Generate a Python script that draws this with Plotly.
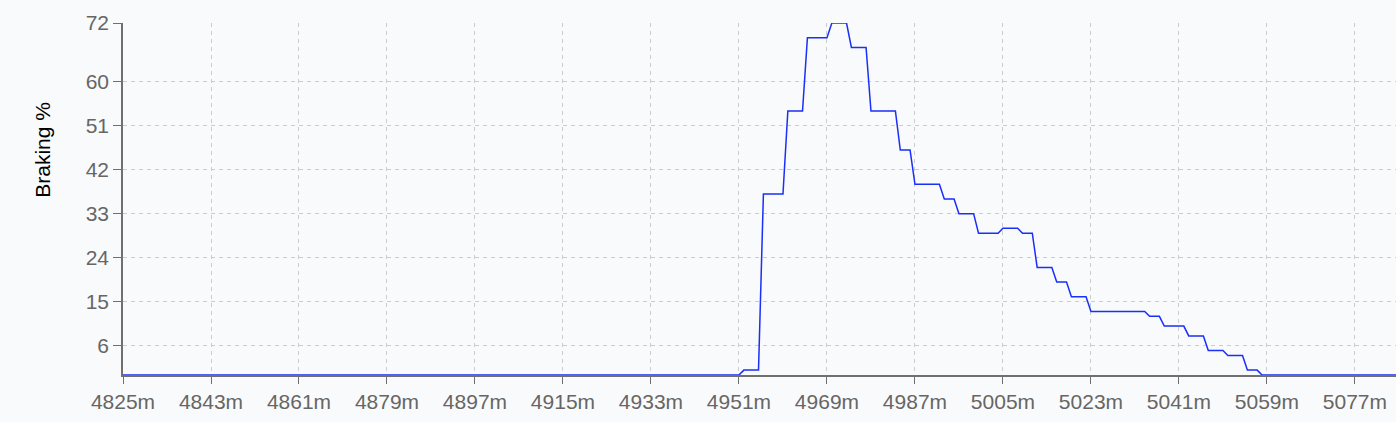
import plotly.graph_objects as go

# distance along lap (m) and brake pressure (%)
distance = [4825, 4951, 4952, 4955, 4956, 4960, 4961, 4964, 4965, 4969, 4970,
            4973, 4974, 4977, 4978, 4983, 4984, 4986, 4987, 4992, 4993, 4995,
            4996, 4999, 5000, 5004, 5005, 5008, 5009, 5011, 5012, 5015, 5016,
            5018, 5019, 5022, 5023, 5034, 5035, 5037, 5038, 5042, 5043, 5046,
            5047, 5050, 5051, 5054, 5055, 5057, 5058, 5086]
braking = [0, 0, 1, 1, 37, 37, 54, 54, 69, 69, 72,
           72, 67, 67, 54, 54, 46, 46, 39, 39, 36, 36,
           33, 33, 29, 29, 30, 30, 29, 29, 22, 22, 19,
           19, 16, 16, 13, 13, 12, 12, 10, 10, 8, 8,
           5, 5, 4, 4, 1, 1, 0, 0]

y_ticks = [6, 15, 24, 33, 42, 51, 60, 72]

fig = go.Figure()
fig.add_trace(go.Scatter(
    x=distance, y=braking, mode="lines",
    line=dict(color="#1a2ff8", width=1.5),
    hoverinfo="x+y",
))

axis_font = dict(family="Liberation Sans, Arial, sans-serif", size=21, color="#666666")

fig.update_layout(
    width=1396, height=422,
    margin=dict(l=123, r=0, t=23, b=47),
    paper_bgcolor="#f9fafb",
    plot_bgcolor="#f9fafb",
    showlegend=False,
    font=axis_font,
    xaxis=dict(
        range=[4825, 5085.4],
        tick0=4825, dtick=18, ticksuffix="m",
        showgrid=True, gridcolor="#cccccc", gridwidth=1, griddash="4px,4px",
        showline=True, linecolor="#707070", linewidth=1.5,
        ticks="outside", ticklen=7, tickcolor="#707070",
        zeroline=False, tickfont=axis_font,
    ),
    yaxis=dict(
        range=[0, 72],
        tickvals=y_ticks,
        showgrid=True, gridcolor="#cccccc", gridwidth=1, griddash="4px,4px",
        showline=True, linecolor="#707070", linewidth=1.5,
        ticks="outside", ticklen=8, tickcolor="#707070",
        zeroline=False, tickfont=axis_font,
    ),
)

# y title sits above the axis middle in the original, so place it by hand
fig.add_annotation(
    text="Braking %", textangle=-90, showarrow=False,
    xref="paper", yref="paper", x=0, y=0.64, xshift=-80,
    xanchor="center", yanchor="middle",
    font=dict(family="Liberation Sans, Arial, sans-serif", size=21, color="#000000"),
)

# drop the page's default body margin so the figure sits at the window corner
fig.write_html("out.html", config={"displayModeBar": False},
               post_script="document.body.style.margin='0';")
